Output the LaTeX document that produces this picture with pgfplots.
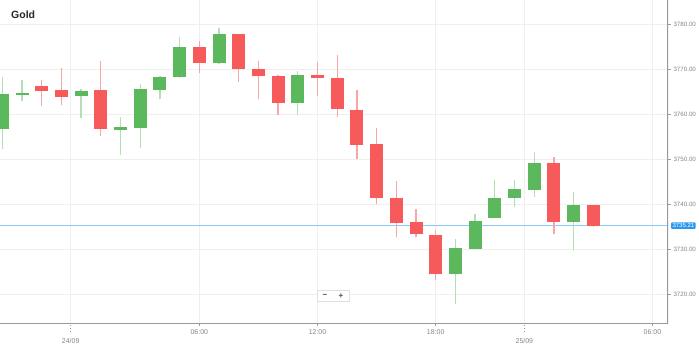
\documentclass[border=0pt]{standalone}
\usepackage{fontspec}
\setmainfont{Liberation Sans}
\usepackage{pgfplots}
\pgfplotsset{compat=1.18}
\usepackage{pgfplotstable}
\definecolor{upbody}{HTML}{5CB85C}
\definecolor{upwick}{HTML}{B3DFB3}
\definecolor{dnbody}{HTML}{F75A5A}
\definecolor{dnwick}{HTML}{F9A5A5}
\definecolor{gridc}{HTML}{EFEFEF}
\definecolor{axisc}{HTML}{9A9A9A}
\definecolor{labc}{HTML}{858585}
\definecolor{pricel}{RGB}{140,200,245}
\definecolor{priceb}{HTML}{2B98EE}

\pgfplotstableread{
i bot top low high
0 3756.80 3764.52 3752.20 3768.24
1 3764.40 3764.70 3762.90 3767.57
4 3764.00 3765.26 3759.24 3765.57
6 3756.50 3757.24 3750.94 3759.47
7 3757.00 3765.57 3752.56 3766.75
8 3765.41 3768.37 3763.34 3768.50
9 3768.24 3774.99 3768.02 3777.28
11 3771.49 3777.88 3771.14 3779.29
15 3762.45 3768.75 3759.84 3769.71
23 3724.43 3730.29 3717.68 3732.16
24 3730.00 3736.24 3730.00 3737.73
25 3736.84 3741.29 3736.84 3745.37
26 3741.29 3743.30 3739.42 3745.37
27 3743.14 3749.09 3741.65 3751.67
29 3735.95 3739.80 3729.78 3742.63
}\up

\pgfplotstableread{
i bot top low high
2 3765.26 3766.30 3761.85 3767.64
3 3763.92 3765.41 3762.07 3770.24
5 3756.66 3765.41 3755.23 3771.94
10 3771.49 3774.99 3769.27 3776.33
12 3770.09 3777.88 3767.26 3777.88
13 3768.46 3770.02 3763.41 3771.87
14 3762.45 3768.53 3759.84 3768.75
16 3768.02 3768.82 3764.14 3771.71
17 3761.18 3768.08 3759.33 3773.14
18 3753.10 3760.96 3749.98 3765.35
19 3741.29 3753.39 3739.95 3756.95
20 3735.90 3741.29 3732.61 3745.21
21 3733.34 3736.08 3732.61 3738.91
22 3724.43 3733.18 3723.10 3734.23
28 3735.95 3749.09 3733.34 3750.56
30 3735.21 3739.80 3734.83 3739.80
}\down

\begin{document}
\begin{tikzpicture}[x=1pt,y=1pt]
\path[use as bounding box] (0,-23.7) rectangle (699,323.3);
\begin{axis}[
  at={(0,0)}, anchor=south west,
  width=668pt, height=323.3pt, scale only axis,
  xmin=-0.117, xmax=33.79, ymin=3713.47, ymax=3785.46,
  axis line style={draw=none},
  grid=major, major grid style={gridc, line width=0.9pt},
  xtick={10,16,22,33}, xticklabels={06:00,12:00,18:00,06:00},
  extra x ticks={3.47,26.5}, extra x tick labels={24/09,25/09},
  extra x tick style={major tick length=8pt, tick style={axisc, line width=0.7pt, dotted}, xticklabel style={yshift=-4pt}},
  ytick={3720,3730,3740,3750,3760,3770,3780},
  xtick pos=bottom, ytick pos=right, yticklabel pos=right,
  tick align=outside, major tick length=2.5pt,
  tick style={axisc, line width=0.7pt},
  scaled y ticks=false,
  y tick label style={/pgf/number format/fixed, /pgf/number format/fixed zerofill, /pgf/number format/precision=2, /pgf/number format/1000 sep={}, /pgf/number format/assume math mode=true, font=\fontsize{6.2}{7}\selectfont, text=labc, xshift=-0.5pt},
  x tick label style={font=\fontsize{7}{8}\selectfont, text=labc},
  clip=true,
  candle/.style={only marks, mark=*, mark size=0pt, mark options={draw=none, fill=none}, forget plot,
    error bars/y dir=plus, error bars/y explicit, error bars/error mark=none},
]
% current price line
\draw[draw=pricel, line width=1.6pt] (axis cs:-1,3735.21) -- (axis cs:35,3735.21);
% wicks
\addplot[candle, error bars/error bar style={draw=upwick, line width=1.3pt}]
  table[x=i, y=low, y error expr=\thisrow{high}-\thisrow{low}] {\up};
\addplot[candle, error bars/error bar style={draw=dnwick, line width=1.3pt}]
  table[x=i, y=low, y error expr=\thisrow{high}-\thisrow{low}] {\down};
% bodies
\addplot[candle, error bars/error bar style={draw=upbody, line width=13pt}]
  table[x=i, y=bot, y error expr=\thisrow{top}-\thisrow{bot}] {\up};
\addplot[candle, error bars/error bar style={draw=dnbody, line width=13pt}]
  table[x=i, y=bot, y error expr=\thisrow{top}-\thisrow{bot}] {\down};
\draw[axisc, line width=1.2pt] (rel axis cs:0,0) -- (rel axis cs:1,0) -- (rel axis cs:1,1);
\end{axis}
\node[anchor=west, fill=priceb, text=white, rounded corners=1pt, inner xsep=1.5pt, inner ysep=1.2pt, font=\fontsize{6}{6}\selectfont] at (670.8,97.7) {3735.21};
\node[anchor=base west, inner sep=0pt, font=\bfseries\fontsize{10.5}{12}\selectfont, text=black!85] at (11,305) {Gold};
\draw[black!12, fill=white] (316.7,21.6) rectangle (349.3,32.6);
\node[font=\bfseries\fontsize{8}{8}\selectfont, text=black!70, inner sep=0pt] at (325,27.1) {−};
\node[font=\bfseries\fontsize{8}{8}\selectfont, text=black!70, inner sep=0pt] at (341,27.1) {+};
\end{tikzpicture}
\end{document}
